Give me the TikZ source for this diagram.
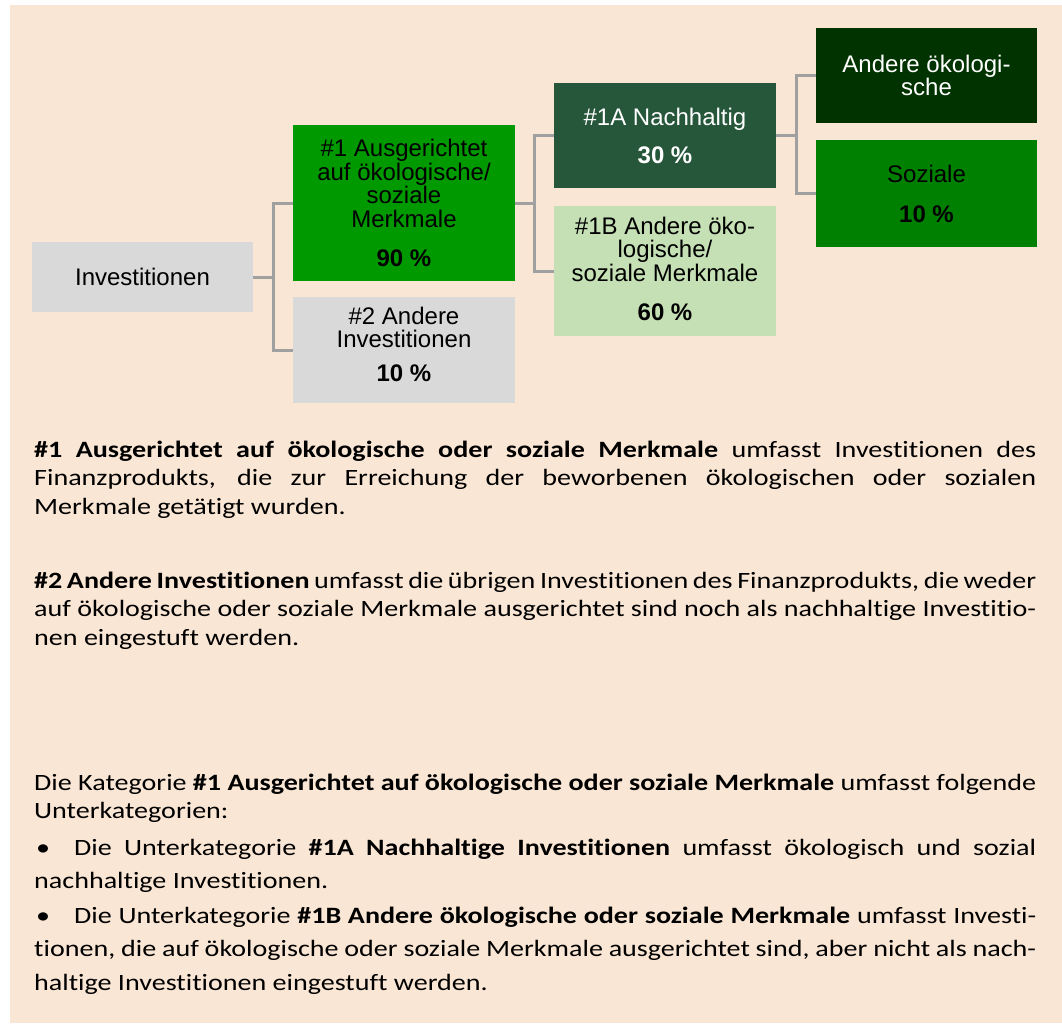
\documentclass[tikz,border=0pt]{standalone}
\usepackage{fontspec}
\setmainfont{Liberation Sans}
\newfontfamily\bodyfont{Carlito}[FakeStretch=1.2, Ligatures=NoCommon]
\usepackage{tikz}

\tolerance=9999
\hbadness=10000

\definecolor{peach}{HTML}{FAE6D4}
\definecolor{boxgray}{HTML}{D9D9D9}
\definecolor{linegray}{HTML}{A0A0A0}
\definecolor{greenone}{HTML}{009900}
\definecolor{greenA}{HTML}{26573B}
\definecolor{greenB}{HTML}{C5E0B4}
\definecolor{greenoek}{HTML}{003300}
\definecolor{greensoz}{HTML}{008000}

\tikzset{
  box/.style={inner sep=0pt, align=center, font=\fontsize{24}{23.5}\selectfont},
  conn/.style={draw=linegray, line width=3pt},
  body/.style={anchor=base west, inner sep=0pt, text width=1002pt, align=justify,
    font=\bodyfont\fontsize{23.4}{28.5}\selectfont},
  bullets/.style={body, font=\bodyfont\fontsize{23.4}{33.5}\selectfont},
}

\begin{document}
\begin{tikzpicture}[x=1pt, y=-1pt]
		%%%%% START %%%%%
		
		\useasboundingbox (0,0) rectangle (1062,1023);
		\fill[white] (0,0) rectangle (1062,1023);
		\fill[peach] (10,5) rectangle (1062,1023);
		
		\node[box, fill=boxgray, minimum width=221pt, minimum height=70pt] (inv) at (142.5,277) {Investitionen};
		
		\node[box, fill=greenone, minimum width=222pt, minimum height=156pt] (eins) at (404,203)
			{\#1 Ausgerichtet\\auf ökologische/\\soziale\\Merkmale\\[15.5pt]\textbf{90 \%}};
		\node[box, fill=boxgray, minimum width=222pt, minimum height=106pt, text depth=11pt] (zwei) at (404,350)
			{\#2 Andere\\Investitionen\\[10.5pt]\textbf{10 \%}};
		
		\node[box, fill=greenA, text=white, minimum width=222pt, minimum height=105pt] (einsA) at (665,135.5)
			{\#1A Nachhaltig\\[14.5pt]\textbf{30 \%}};
		\node[box, fill=greenB, minimum width=222pt, minimum height=130pt, text depth=5pt] (einsB) at (665,271)
			{\#1B Andere öko-\\logische/\\soziale Merkmale\\[15.5pt]\textbf{60 \%}};
		
		\node[box, fill=greenoek, text=white, minimum width=221pt, minimum height=95pt] (oek) at (926.5,75.5)
			{Andere ökologi-\\sche};
		\node[box, fill=greensoz, minimum width=221pt, minimum height=107pt] (soz) at (926.5,193.5)
			{Soziale\\[16.5pt]\textbf{10 \%}};
		
		\draw[conn] (inv.east) -- ++(20,0) |- (eins.west);
		\draw[conn] (inv.east) -- ++(20,0) |- (zwei.west);
		\draw[conn] (eins.east) -- ++(19,0) |- (einsA.west);
		\draw[conn] (eins.east) -- ++(19,0) |- (einsB.west);
		\draw[conn] (einsA.east) -- ++(20,0) |- (oek.west);
		\draw[conn] (einsA.east) -- ++(20,0) |- (soz.west);
		
		\node[body] (t1) at (34,457)
			{\textbf{\#1 Ausgerichtet auf ökologische oder soziale Merkmale} umfasst Investitionen des\linebreak
			Finanzprodukts, die zur Erreichung der beworbenen ökologischen oder sozialen\linebreak
			Merkmale getätigt wurden.};
		
		\node[body] (t2) at (34,588)
			{\textbf{\#2 Andere Investitionen} umfasst die übrigen Investitionen des Finanzprodukts, die weder\linebreak
			auf ökologische oder soziale Merkmale ausgerichtet sind noch als nachhaltige Investitio-\linebreak
			nen eingestuft werden.};
		
		\node[body] (t3) at (34,790)
			{Die Kategorie \textbf{\#1 Ausgerichtet auf ökologische oder soziale Merkmale} umfasst folgende\linebreak
			Unterkategorien:};
		
		\node[bullets] (t4) at (34,855)
			{\hspace*{2pt}•\hspace*{24pt}Die Unterkategorie \textbf{\#1A Nachhaltige Investitionen} umfasst ökologisch und sozial\linebreak
			nachhaltige Investitionen.};
		\node[bullets] (t5) at (34,923)
			{\hspace*{2pt}•\hspace*{24pt}Die Unterkategorie \textbf{\#1B Andere ökologische oder soziale Merkmale} umfasst Investi-\linebreak
			tionen, die auf ökologische oder soziale Merkmale ausgerichtet sind, aber nicht als nach-\linebreak
			haltige Investitionen eingestuft werden.};
		
		%%%%% END %%%%%
\end{tikzpicture}
\end{document}
